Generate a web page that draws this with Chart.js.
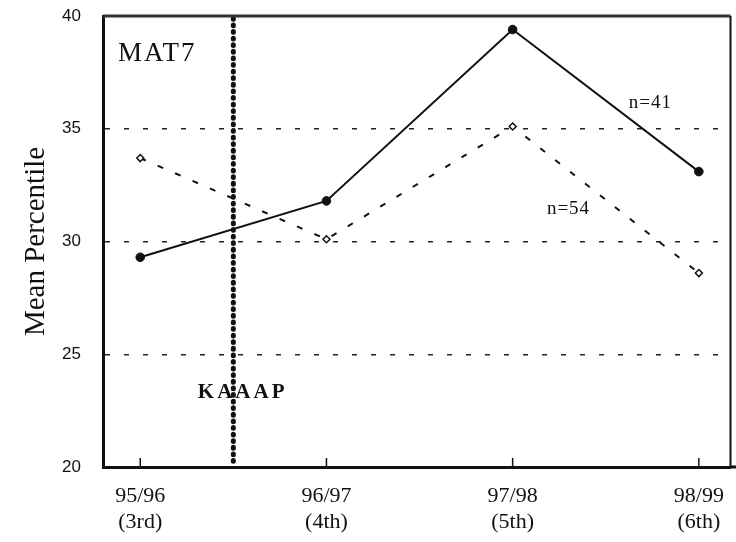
<!DOCTYPE html>
<html>
<head>
<meta charset="utf-8">
<script src="https://cdn.jsdelivr.net/npm/chart.js@4/dist/chart.umd.min.js"></script>
<style>
  html, body { margin: 0; padding: 0; background: #fff; }
  #wrap { width: 736px; height: 542px; }
</style>
</head>
<body>
<div id="wrap"><canvas id="c" width="736" height="542"></canvas></div>
<script>
// School years and grade level for each testing season
const seasons = ['95/96', '96/97', '97/98', '98/99'];
const grades = ['(3rd)', '(4th)', '(5th)', '(6th)'];
// Mean percentile per season
const cohort41 = [29.3, 31.8, 39.4, 33.1];   // n=41, solid line
const cohort54 = [33.7, 30.1, 35.1, 28.6];   // n=54, dashed line
const yTicks = [20, 25, 30, 35, 40];
const gridValues = [25, 30, 35];
// KAAAP introduced between the first and second season
const kaaapAt = 0.5;

const ink = '#111';
const serif = "'Liberation Serif', 'DejaVu Serif', serif";
const sans = "'Liberation Sans', Arial, sans-serif";

const toPoints = vals => vals.map((v, i) => ({ x: i, y: v }));

const decorations = {
  id: 'decorations',
  afterDraw(chart) {
    const { ctx, chartArea: a, scales: { x, y } } = chart;
    ctx.save();
    // top and right frame
    ctx.strokeStyle = '#333';
    ctx.lineWidth = 3;
    ctx.beginPath();
    ctx.moveTo(a.left, a.top);
    ctx.lineTo(a.right, a.top);
    ctx.stroke();
    ctx.lineWidth = 2;
    ctx.strokeStyle = ink;
    ctx.beginPath();
    ctx.moveTo(a.right, a.top);
    ctx.lineTo(a.right, a.bottom);
    ctx.stroke();
    // bottom axis runs on to the edge
    ctx.lineWidth = 3;
    ctx.beginPath();
    ctx.moveTo(a.right, a.bottom);
    ctx.lineTo(chart.width, a.bottom);
    ctx.stroke();
    // inward tick marks on the category axis
    ctx.lineWidth = 1.5;
    seasons.forEach((s, i) => {
      const px = x.getPixelForValue(i);
      ctx.beginPath();
      ctx.moveTo(px, a.bottom);
      ctx.lineTo(px, a.bottom - 9);
      ctx.stroke();
    });
    // text annotations
    ctx.fillStyle = ink;
    ctx.textBaseline = 'middle';
    ctx.textAlign = 'left';
    ctx.font = '27px ' + serif;
    ctx.letterSpacing = '2px';
    ctx.fillText('MAT7', x.getPixelForValue(-0.12), y.getPixelForValue(38.3));
    ctx.textAlign = 'center';
    ctx.font = 'bold 21px ' + serif;
    ctx.letterSpacing = '3px';
    ctx.fillText('KAAAP', x.getPixelForValue(0.55), y.getPixelForValue(23.3));
    ctx.font = '19px ' + serif;
    ctx.letterSpacing = '1px';
    ctx.fillText('n=41', x.getPixelForValue(2.74), y.getPixelForValue(36.15));
    ctx.fillText('n=54', x.getPixelForValue(2.3), y.getPixelForValue(31.45));
    ctx.restore();
  }
};

new Chart(document.getElementById('c'), {
  type: 'line',
  data: {
    datasets: [
      {
        label: 'KAAAP',
        data: [{ x: kaaapAt, y: 20.25 }, { x: kaaapAt, y: 40 }],
        borderColor: ink,
        borderWidth: 5,
        borderDash: [0.8, 5.8],
        borderCapStyle: 'round',
        pointRadius: 0,
        fill: false
      },
      {
        label: 'n=41',
        data: toPoints(cohort41),
        borderColor: ink,
        borderWidth: 2,
        pointStyle: 'circle',
        pointRadius: 4.3,
        pointBackgroundColor: ink,
        pointBorderColor: ink,
        pointBorderWidth: 1,
        tension: 0
      },
      {
        label: 'n=54',
        data: toPoints(cohort54),
        borderColor: ink,
        borderWidth: 2,
        borderDash: [6, 13],
        pointStyle: 'rectRot',
        pointRadius: 3.5,
        pointBackgroundColor: '#fff',
        pointBorderColor: ink,
        pointBorderWidth: 1.5,
        tension: 0
      }
    ]
  },
  options: {
    responsive: false,
    animation: false,
    layout: { padding: { top: 16, right: 3, left: 0, bottom: 0 } },
    plugins: { legend: { display: false }, tooltip: { enabled: false } },
    scales: {
      x: {
        type: 'linear',
        min: -0.2,
        max: 3.17,
        afterBuildTicks: s => { s.ticks = seasons.map((_, i) => ({ value: i })); },
        afterFit: s => { s.height = 75; s.paddingLeft = 0; s.paddingRight = 0; },
        ticks: {
          callback: v => [seasons[v], grades[v]],
          font: { family: serif, size: 22, lineHeight: 1.15 },
          color: ink,
          padding: 17,
          maxRotation: 0,
          autoSkip: false
        },
        grid: { display: true, drawOnChartArea: false, drawTicks: false },
        border: { display: true, color: ink, width: 3 }
      },
      y: {
        min: 20,
        max: 40,
        afterBuildTicks: s => { s.ticks = yTicks.map(v => ({ value: v })); },
        afterFit: s => { s.width = 103; s.paddingTop = 0; s.paddingBottom = 0; },
        ticks: {
          font: { family: sans, size: 17 },
          color: ink,
          padding: 22
        },
        grid: {
          drawTicks: false,
          lineWidth: 1.5,
          color: c => gridValues.includes(c.tick && c.tick.value) ? '#222' : 'rgba(0,0,0,0)'
        },
        border: { display: true, color: ink, width: 3, dash: [5, 14] },
        title: {
          display: true,
          text: 'Mean Percentile',
          font: { family: serif, size: 29 },
          color: ink,
          padding: { top: 19, bottom: 0 }
        }
      }
    }
  },
  plugins: [decorations]
});
</script>
</body>
</html>
